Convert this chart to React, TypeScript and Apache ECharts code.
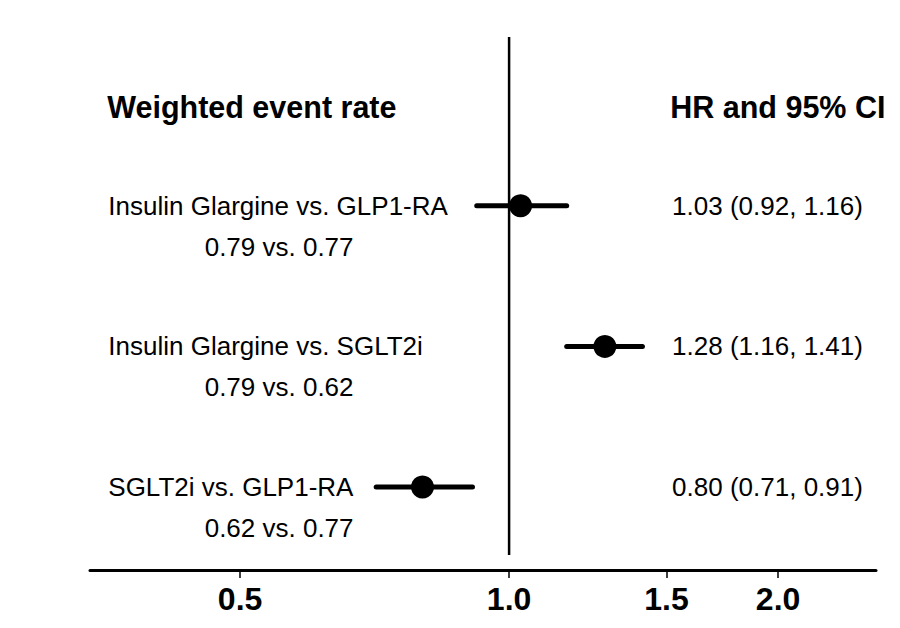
import React, { useEffect, useRef } from "react";
import * as echarts from "echarts";

const comparisons = ["Insulin Glargine vs. GLP1-RA", "Insulin Glargine vs. SGLT2i", "SGLT2i vs. GLP1-RA"];
const eventRates = ["0.79 vs. 0.77", "0.79 vs. 0.62", "0.62 vs. 0.77"];
const hr = [1.03, 1.28, 0.8];
const ciLow = [0.92, 1.16, 0.71];
const ciHigh = [1.16, 1.41, 0.91];
const rowPos = [3, 2, 1];
const tickValues = [0.5, 1.0, 1.5, 2.0];
const headerLeft = "Weighted event rate";
const headerRight = "HR and 95% CI";

const lg = (v: number) => Math.log2(v);
const FONT = "'Liberation Sans', Arial, sans-serif";

export default function App() {
  const ref = useRef<HTMLDivElement>(null);
  useEffect(() => {
    if (!ref.current) return;
    const chart = echarts.init(ref.current, null, { renderer: "svg" });
    const hrText = hr.map((h, i) => `${h.toFixed(2)} (${ciLow[i].toFixed(2)}, ${ciHigh[i].toFixed(2)})`);
    const leftX = -1.49;
    const midX = -0.855;
    const rightX = 0.606;
    const textSeries = (data: any[], align: string, style: any) => ({
      type: "scatter",
      symbolSize: 0,
      silent: true,
      itemStyle: { opacity: 1 },
      data,
      label: {
        show: true,
        position: align === "center" ? "inside" : "right",
        distance: 0,
        formatter: (p: any) => p.data.t,
        color: "#000",
        opacity: 1,
        fontFamily: FONT,
        ...style,
      },
    });
    chart.setOption({
      animation: false,
      backgroundColor: "#fff",
      grid: { left: 90, right: 24, top: 37, bottom: 58 },
      xAxis: {
        type: "value",
        min: -1.558,
        max: 1.364,
        splitLine: { show: false },
        axisLine: { show: true, lineStyle: { color: "#000", width: 3 } },
        axisTick: { show: true, customValues: tickValues.map(lg), length: 8, lineStyle: { color: "#000", width: 1.5 } },
        axisLabel: {
          show: true,
          customValues: tickValues.map(lg),
          formatter: (v: number) => Math.pow(2, v).toFixed(1),
          fontFamily: FONT,
          fontWeight: "bold",
          fontSize: 32,
          color: "#000",
          margin: 13,
        },
      },
      yAxis: {
        type: "value",
        min: 0.41,
        max: 4.2,
        show: false,
      },
      series: [
        {
          type: "line",
          silent: true,
          symbol: "none",
          data: [[0, 0.517], [0, 4.2]],
          lineStyle: { color: "#000", width: 2.5 },
        },
        {
          type: "custom",
          silent: true,
          data: hr.map((_, i) => [lg(ciLow[i]), lg(ciHigh[i]), rowPos[i]]),
          renderItem: (params: any, api: any) => {
            const a = api.coord([api.value(0), api.value(2)]);
            const b = api.coord([api.value(1), api.value(2)]);
            return {
              type: "line",
              shape: { x1: a[0], y1: a[1], x2: b[0], y2: b[1] },
              style: { stroke: "#000", lineWidth: 5, lineCap: "round" },
            };
          },
        },
        {
          type: "scatter",
          silent: true,
          symbol: "circle",
          symbolSize: 23,
          itemStyle: { color: "#000", opacity: 1 },
          data: hr.map((h, i) => [lg(h), rowPos[i]]),
          z: 5,
        },
        textSeries(comparisons.map((t, i) => ({ value: [leftX, rowPos[i]], t })), "left", { fontSize: 26 }),
        textSeries(eventRates.map((t, i) => ({ value: [midX, rowPos[i] - 0.29], t })), "center", { fontSize: 26 }),
        textSeries(hrText.map((t, i) => ({ value: [rightX, rowPos[i]], t })), "left", { fontSize: 26 }),
        textSeries([{ value: [-1.494, 3.7], t: headerLeft }], "left", { fontSize: 30.5, fontWeight: "bold" }),
        textSeries([{ value: [0.599, 3.7], t: headerRight }], "left", { fontSize: 30.5, fontWeight: "bold" }),
      ],
    });
    return () => chart.dispose();
  }, []);
  return <div ref={ref} style={{ width: 900, height: 628, position: "absolute", left: 0, top: 0 }} />;
}
